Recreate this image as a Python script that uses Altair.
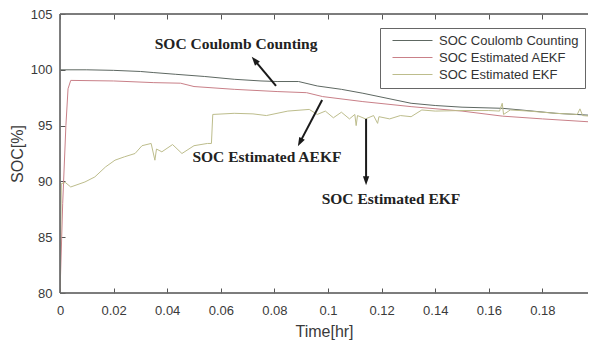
import math
import altair as alt
import pandas as pd

# ---------------- data ----------------
series_names = ["SOC Coulomb Counting", "SOC Estimated AEKF", "SOC Estimated EKF"]
series_colors = ["#5e6862", "#c98088", "#bdbd8c"]

t_cc = [0, 0.01, 0.02, 0.03, 0.035, 0.043, 0.054, 0.065, 0.075, 0.081, 0.089,
        0.096, 0.105, 0.113, 0.122, 0.131, 0.14, 0.15, 0.165, 0.172, 0.185, 0.2]
v_cc = [100.0, 100.0, 99.95, 99.85, 99.75, 99.6, 99.4, 99.15, 99.0, 98.95, 98.95,
        98.55, 98.25, 97.9, 97.45, 97.0, 96.8, 96.65, 96.55, 96.4, 96.1, 95.9]

t_ae = [0, 0.001, 0.0022, 0.003, 0.004, 0.02, 0.035, 0.045, 0.05, 0.065, 0.081,
        0.092, 0.098, 0.113, 0.131, 0.15, 0.165, 0.18, 0.2]
v_ae = [80, 88, 95, 98.3, 99.05, 99.0, 98.85, 98.8, 98.5, 98.25, 98.05,
        97.95, 97.6, 97.15, 96.7, 96.3, 95.85, 95.6, 95.3]

t_ekf = [0, 0.0005, 0.002, 0.004, 0.0093, 0.013, 0.017, 0.0205, 0.024, 0.028,
         0.0306, 0.034, 0.0354, 0.036, 0.038, 0.042, 0.0455, 0.05, 0.055, 0.0565,
         0.057, 0.065, 0.072, 0.077, 0.085, 0.093, 0.096, 0.099, 0.102, 0.105,
         0.108, 0.110, 0.1105, 0.111, 0.114, 0.117, 0.1185, 0.119, 0.123, 0.127,
         0.131, 0.135, 0.14, 0.15, 0.16, 0.164, 0.165, 0.1655, 0.168, 0.175,
         0.185, 0.193, 0.194, 0.195, 0.2]
v_ekf = [80, 89.8, 89.9, 89.5, 89.95, 90.4, 91.3, 91.9, 92.2, 92.5,
         93.2, 93.4, 91.9, 92.9, 92.65, 93.3, 92.5, 93.2, 93.4, 93.4,
         96.0, 96.1, 96.05, 95.9, 96.3, 96.45, 96.0, 96.3, 95.7, 96.2,
         95.6, 96.0, 95.0, 95.9, 95.6, 95.9, 95.2, 95.8, 95.6, 95.9,
         95.8, 96.4, 96.3, 96.35, 96.35, 96.3, 97.0, 96.0, 96.4, 96.3,
         96.1, 96.0, 96.5, 95.9, 95.8]

x_ticks = [0, 0.02, 0.04, 0.06, 0.08, 0.1, 0.12, 0.14, 0.16, 0.18]
y_ticks = [80, 85, 90, 95, 100, 105]
# the reference is cropped just at x = 0.2, so the visible window ends a bit before it
x_domain = [0, 0.197]
y_domain = [80, 105]

ann_text = ["SOC Coulomb Counting", "SOC Estimated AEKF", "SOC Estimated EKF"]
ann_text_t = [0.0657, 0.0772, 0.1235]
ann_text_v = [102.3, 92.2, 88.4]
arrow_tail_t = [0.0806, 0.0978, 0.1142]
arrow_tail_v = [98.55, 97.3, 95.6]
arrow_head_t = [0.0716, 0.0888, 0.1142]
arrow_head_v = [101.15, 93.17, 89.68]

# ---------------- layout ----------------
W, H = 528, 279
PX_T = W / (x_domain[1] - x_domain[0])
PX_V = H / (y_domain[1] - y_domain[0])
HEAD_BACK = 5  # px from tip to arrowhead center

rows = []
for name, ts, vs in zip(series_names, [t_cc, t_ae, t_ekf], [v_cc, v_ae, v_ekf]):
    for i, (t, v) in enumerate(zip(ts, vs)):
        rows.append({"series": name, "t": t, "soc": v, "order": i})
df = pd.DataFrame(rows)

arr_rows = []
for tt, tv, ht, hv in zip(arrow_tail_t, arrow_tail_v, arrow_head_t, arrow_head_v):
    dx = (ht - tt) * PX_T
    dy = -(hv - tv) * PX_V
    L = math.hypot(dx, dy)
    ux, uy = dx / L, dy / L
    ct = ht - ux * HEAD_BACK / PX_T
    cv = hv + uy * HEAD_BACK / PX_V
    ang = math.degrees(math.atan2(dx, -dy)) % 360
    arr_rows.append({"tt": tt, "tv": tv, "ct": ct, "cv": cv, "ang": ang})
adf = pd.DataFrame(arr_rows)
tdf = pd.DataFrame({"label": ann_text, "t": ann_text_t, "v": ann_text_v})

xs = alt.Scale(domain=x_domain, nice=False, zero=False)
ys = alt.Scale(domain=y_domain, nice=False, zero=False)

AX_COLOR = "#555555"
LAB_COLOR = "#3a3a3a"
FRAME = "#6b6b6b"

lines = alt.Chart(df).mark_line(strokeWidth=1, clip=True).encode(
    x=alt.X("t:Q", scale=xs, axis=alt.Axis(
        orient="bottom", values=x_ticks, format="~g", title="Time[hr]",
        offset=-5, tickSize=5, domain=False, grid=False, labelPadding=11,
        titlePadding=6, labelOverlap=False, labelBound=False, labelFlush=False)),
    y=alt.Y("soc:Q", scale=ys, axis=alt.Axis(
        orient="left", values=y_ticks, title="SOC[%]",
        offset=-5, tickSize=5, domain=False, grid=False, labelPadding=8,
        titlePadding=5, labelOverlap=False, labelBound=False, labelFlush=False)),
    color=alt.Color("series:N", scale=alt.Scale(domain=series_names, range=series_colors),
                    legend=alt.Legend(title=None, orient="none", legendX=320, legendY=14,
                                      symbolType="M0,0H8", symbolSize=100,
                                      symbolStrokeWidth=1, labelFontSize=13,
                                      labelFont="Liberation Sans", labelColor="#333333",
                                      strokeColor="#666666", fillColor="#ffffff",
                                      padding=6, rowPadding=3, labelOffset=40)),
    order="order:Q",
)

frame = alt.Chart(df).mark_point(opacity=0).encode(
    x=alt.X("t:Q", scale=xs, axis=alt.Axis(
        orient="top", values=x_ticks, labels=False, title="",
        offset=-5, tickSize=5, domain=False, grid=False)),
    y=alt.Y("soc:Q", scale=ys, axis=None),
)

# plot frame (left, top, bottom); the right edge lies outside the cropped picture
edge_top = alt.Chart(tdf).mark_rule(color=FRAME, strokeWidth=1).encode(
    x=alt.value(0), x2=alt.value(W), y=alt.value(0))
edge_bottom = alt.Chart(tdf).mark_rule(color=FRAME, strokeWidth=1).encode(
    x=alt.value(0), x2=alt.value(W), y=alt.value(H))
edge_left = alt.Chart(tdf).mark_rule(color=FRAME, strokeWidth=1).encode(
    x=alt.value(0), y=alt.value(0), y2=alt.value(H))

rules = alt.Chart(adf).mark_rule(strokeWidth=2, color="#1a1a1a").encode(
    x=alt.X("tt:Q", scale=xs, axis=None),
    y=alt.Y("tv:Q", scale=ys, axis=None),
    x2="ct:Q",
    y2="cv:Q",
)

heads = alt.Chart(adf).mark_point(
    shape="M0,-1L0.6,0.7L-0.6,0.7Z", filled=True, size=110, color="#1a1a1a", opacity=1
).encode(
    x=alt.X("ct:Q", scale=xs, axis=None),
    y=alt.Y("cv:Q", scale=ys, axis=None),
    angle=alt.Angle("ang:Q", scale=None),
)

texts = alt.Chart(tdf).mark_text(
    font="Liberation Serif", fontWeight="bold", fontSize=15.5, color="#222222",
    align="center", baseline="middle"
).encode(
    x=alt.X("t:Q", scale=xs, axis=None),
    y=alt.Y("v:Q", scale=ys, axis=None),
    text="label:N",
)

chart = alt.layer(
    lines, frame, edge_top, edge_bottom, edge_left, rules, heads, texts
).resolve_axis(
    x="independent", y="independent"
).properties(
    width=W, height=H,
    autosize=alt.AutoSizeParams(type="none"),
    padding={"left": 52, "top": 6, "right": 0, "bottom": 50},
).configure_view(
    stroke=None
).configure_axis(
    tickColor=AX_COLOR, labelColor=LAB_COLOR, titleColor=LAB_COLOR,
    labelFont="Liberation Sans", titleFont="Liberation Sans",
    labelFontSize=13, titleFontSize=16, titleFontWeight="normal",
)

chart.save("out.html", embed_options={"renderer": "svg", "actions": False})
